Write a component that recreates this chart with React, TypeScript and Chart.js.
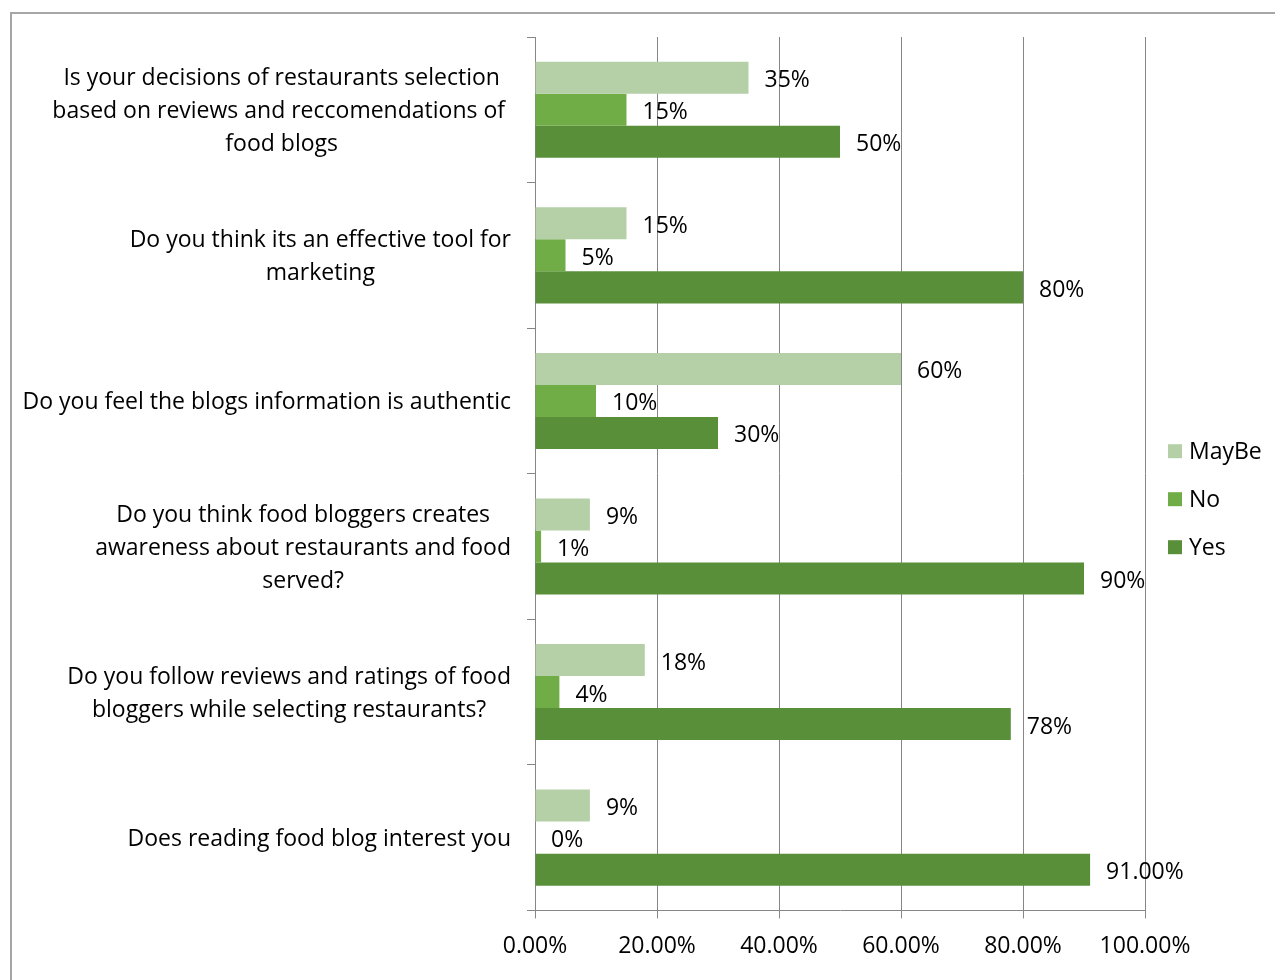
import React, { useEffect, useRef } from 'react';
import { Chart, registerables } from 'chart.js';

Chart.register(...registerables);

const categories: string[][] = [
  ['Is your decisions of restaurants selection', 'based on reviews and reccomendations of ', 'food blogs'],
  ['Do you think its an effective tool for', 'marketing'],
  ['Do you feel the blogs information is authentic'],
  ['Do you think food bloggers creates', 'awareness about restaurants and food', 'served?'],
  ['Do you follow reviews and ratings of food', 'bloggers while selecting restaurants?'],
  ['Does reading food blog interest you'],
];

const seriesNames = ['MayBe', 'No', 'Yes'];
const maybeValues = [0.35, 0.15, 0.6, 0.09, 0.18, 0.09];
const noValues = [0.15, 0.05, 0.1, 0.01, 0.04, 0.0];
const yesValues = [0.5, 0.8, 0.3, 0.9, 0.78, 0.91];
const maybeDecimals = [0, 0, 0, 0, 0, 0];
const noDecimals = [0, 0, 0, 0, 0, 0];
const yesDecimals = [0, 0, 0, 0, 0, 2];
const seriesColors = ['#B5D0A7', '#70AD47', '#5A8F3A'];
const xTickValues = [0, 0.2, 0.4, 0.6, 0.8, 1.0];

const FONT = '"Open Sans", sans-serif';
const FONT_SIZE = 23;
const GRID = '#868686';

const framePlugin = {
  id: 'frame',
  beforeDraw(chart: any) {
    const ctx = chart.ctx;
    ctx.save();
    ctx.fillStyle = '#ffffff';
    ctx.fillRect(0, 0, chart.width, chart.height);
    ctx.strokeStyle = '#A6A6A6';
    ctx.lineWidth = 2;
    ctx.strokeRect(11, 13, chart.width + 50, chart.height + 50);
    ctx.restore();
  },
};

const decimalsList = [maybeDecimals, noDecimals, yesDecimals];

const valueLabelPlugin = {
  id: 'valueLabels',
  afterDatasetsDraw(chart: any) {
    const ctx = chart.ctx;
    ctx.save();
    ctx.font = `${FONT_SIZE}px ${FONT}`;
    ctx.fillStyle = '#000000';
    ctx.textAlign = 'left';
    ctx.textBaseline = 'middle';
    chart.data.datasets.forEach((ds: any, di: number) => {
      const meta = chart.getDatasetMeta(di);
      meta.data.forEach((el: any, i: number) => {
        const v = ds.data[i] as number;
        const txt = (v * 100).toFixed(decimalsList[di][i]) + '%';
        ctx.fillText(txt, el.x + 16, el.y + 3);
      });
    });
    ctx.restore();
  },
};

const categoryLabelPlugin = {
  id: 'categoryLabels',
  afterDraw(chart: any) {
    const ctx = chart.ctx;
    const yScale = chart.scales.y;
    const rightEdge = yScale.left - 16;
    const lineH = 33;
    ctx.save();
    ctx.font = `${FONT_SIZE}px ${FONT}`;
    ctx.fillStyle = '#000000';
    ctx.textAlign = 'center';
    ctx.textBaseline = 'middle';
    categories.forEach((lines, i) => {
      const cy = yScale.getPixelForValue(i) + 2;
      const maxW = Math.max(...lines.map((l) => ctx.measureText(l).width));
      const cx = rightEdge - maxW / 2;
      lines.forEach((line, j) => {
        ctx.fillText(line, cx, cy + (j - (lines.length - 1) / 2) * lineH);
      });
    });
    ctx.restore();
  },
};

const legendPlugin = {
  id: 'customLegend',
  afterDraw(chart: any) {
    const ctx = chart.ctx;
    const area = chart.chartArea;
    const x = area.right + 23;
    const spacing = 48;
    const y0 = (area.top + area.bottom) / 2 - 22.5;
    ctx.save();
    ctx.font = `${FONT_SIZE}px ${FONT}`;
    ctx.textAlign = 'left';
    ctx.textBaseline = 'middle';
    chart.data.datasets.forEach((ds: any, i: number) => {
      const y = y0 + i * spacing;
      ctx.fillStyle = ds.backgroundColor;
      ctx.fillRect(x, y - 7, 14, 14);
      ctx.fillStyle = '#000000';
      ctx.fillText(ds.label, x + 21, y + 1);
    });
    ctx.restore();
  },
};

export default function App() {
  const canvasRef = useRef<HTMLCanvasElement | null>(null);

  useEffect(() => {
    document.body.style.margin = '0';
    const canvas = canvasRef.current;
    if (!canvas) return;
    const valueLists = [maybeValues, noValues, yesValues];
    const chart = new Chart(canvas, {
      type: 'bar',
      data: {
        labels: categories.map((c) => c.join(' ')),
        datasets: seriesNames.map((name, i) => ({
          label: name,
          data: valueLists[i],
          backgroundColor: seriesColors[i],
          borderWidth: 0,
          categoryPercentage: 0.66,
          barPercentage: 1,
        })),
      },
      options: {
        indexAxis: 'y',
        responsive: false,
        animation: false,
        layout: { padding: { left: 527, top: 37, right: 130, bottom: 6 } },
        plugins: {
          legend: { display: false },
          tooltip: { enabled: false },
        },
        scales: {
          x: {
            type: 'linear',
            min: 0,
            max: 1,
            afterBuildTicks: (scale: any) => {
              scale.ticks = xTickValues.map((v) => ({ value: v }));
            },
            ticks: {
              callback: (v: any) => (Number(v) * 100).toFixed(2) + '%',
              color: '#000000',
              font: { family: FONT, size: FONT_SIZE },
              padding: 14,
              maxRotation: 0,
            },
            grid: { color: GRID, lineWidth: 1, tickLength: 8, drawTicks: true },
            border: { color: GRID, width: 1 },
          },
          y: {
            type: 'category',
            offset: true,
            ticks: { display: false },
            grid: { drawOnChartArea: false, drawTicks: true, tickLength: 8, color: GRID, offset: true },
            border: { color: GRID, width: 1 },
          },
        },
      },
      plugins: [framePlugin, valueLabelPlugin, categoryLabelPlugin, legendPlugin],
    });
    return () => chart.destroy();
  }, []);

  return (
    <div style={{ width: 1275, height: 980 }}>
      <canvas ref={canvasRef} width={1275} height={980} style={{ display: 'block' }} />
    </div>
  );
}
